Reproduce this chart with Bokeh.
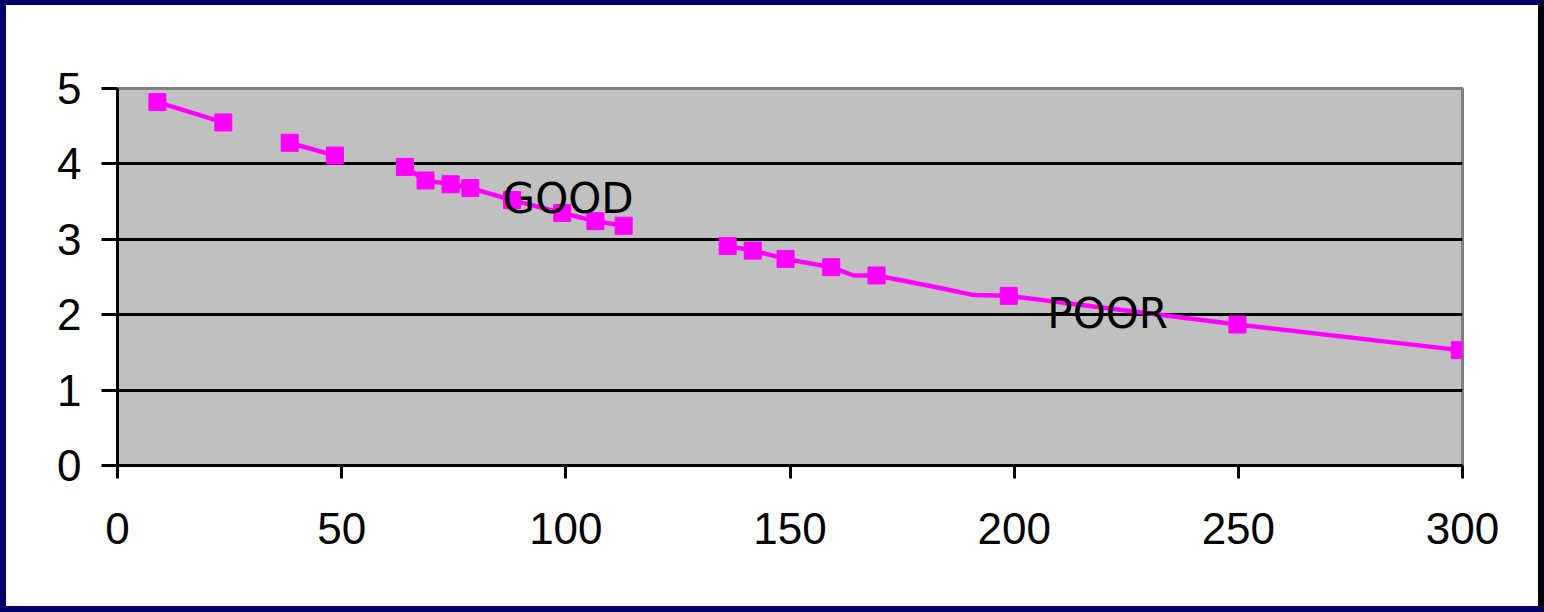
from bokeh.plotting import figure
from bokeh.models import Range1d, FixedTicker, ColumnDataSource
from bokeh.core.properties import value
from bokeh.embed import file_html
from bokeh.resources import INLINE

# ---- data ----
x_vals = [8.9, 23.6, 38.4, 48.5, 64.1, 68.7, 74.3, 78.7, 88.0, 99.2, 106.6, 112.9,
          136.1, 141.7, 149.0, 159.2, 164.2, 169.3, 182.1, 191.0, 198.8, 249.8, 299.4]
y_vals = [4.82, 4.55, 4.28, 4.11, 3.96, 3.78, 3.73, 3.68, 3.52, 3.35, 3.24, 3.18,
          2.91, 2.85, 2.74, 2.63, 2.52, 2.52, 2.37, 2.26, 2.25, 1.87, 1.53]
segment = [0, 0, 1, 1, 2, 2, 2, 2, 2, 2, 2, 2,
           3, 3, 3, 3, 3, 3, 3, 3, 3, 3, 3]
marked = [1, 1, 1, 1, 1, 1, 1, 1, 1, 1, 1, 1,
          1, 1, 1, 1, 0, 1, 0, 0, 1, 1, 1]

x_ticks = [0, 50, 100, 150, 200, 250, 300]
y_ticks = [0, 1, 2, 3, 4, 5]
grid_lines = [1, 2, 3, 4]

label_text = ["GOOD", "POOR"]
label_x = [85.9, 207.4]
label_y = [3.54, 2.02]

# ---- figure ----
p = figure(width=1544, height=612, output_backend="svg", toolbar_location=None,
           x_range=Range1d(0, 300), y_range=Range1d(0, 5),
           min_border_left=111, min_border_right=88,
           min_border_top=83, min_border_bottom=152)
p.styles = {"border-left": "6px solid #00006b", "border-top": "5px solid #00006b",
            "border-right": "6px solid #000010", "border-bottom": "6px solid #00006b",
            "box-sizing": "border-box"}

p.background_fill_color = "#c0c0c0"
p.border_fill_color = "white"
p.outline_line_color = "#808080"
p.outline_line_width = 3

p.xgrid.visible = False
p.ygrid.ticker = FixedTicker(ticks=grid_lines)
p.ygrid.grid_line_color = "black"
p.ygrid.grid_line_width = 3

for ax in (p.xaxis[0], p.yaxis[0]):
    ax.axis_line_color = "black"
    ax.axis_line_width = 3
    ax.major_tick_line_color = "black"
    ax.major_tick_line_width = 3
    ax.major_tick_in = 0
    ax.minor_tick_line_color = None
    ax.major_label_text_font = "Liberation Sans"
    ax.major_label_text_font_size = "44px"
    ax.major_label_text_color = "black"

p.xaxis.ticker = FixedTicker(ticks=x_ticks)
p.yaxis.ticker = FixedTicker(ticks=y_ticks)
p.xaxis.major_tick_out = 13
p.yaxis.major_tick_out = 16
p.xaxis.major_label_standoff = 34
p.yaxis.major_label_standoff = 20

# line segments
xs, ys = [], []
for s in sorted(set(segment)):
    xs.append([x for x, g in zip(x_vals, segment) if g == s])
    ys.append([y for y, g in zip(y_vals, segment) if g == s])
p.multi_line(xs=xs, ys=ys, line_color="#ff00ff", line_width=4.5)

mx = [x for x, m in zip(x_vals, marked) if m]
my = [y for y, m in zip(y_vals, marked) if m]
p.scatter(mx, my, marker="square", size=17, fill_color="#ff00ff", line_color="#ff00ff")

src = ColumnDataSource(dict(x=label_x, y=label_y, t=label_text))
p.text(x="x", y="y", text="t", source=src, text_font=value("DejaVu Sans"),
       text_font_size="42px", text_color="black", text_align="left",
       text_baseline="alphabetic")

open("out.html", "w").write(file_html(p, INLINE))
